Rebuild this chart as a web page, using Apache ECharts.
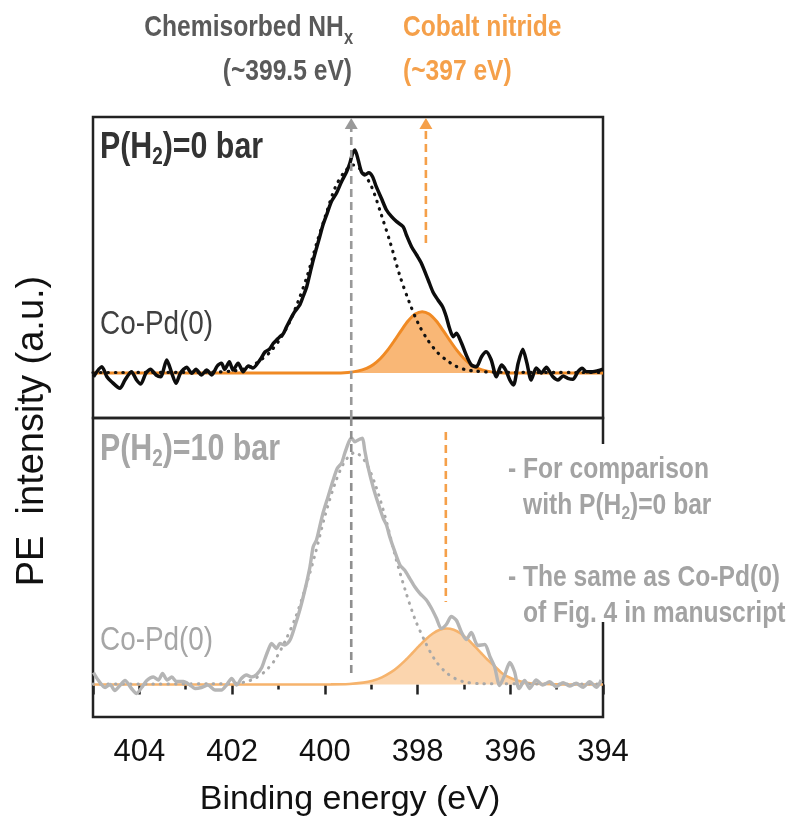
<!DOCTYPE html>
<html><head><meta charset="utf-8">
<script src="https://cdn.jsdelivr.net/npm/echarts@6/dist/echarts.min.js"></script>
<style>html,body{margin:0;padding:0;background:#fff}#c{width:792px;height:829px}</style>
</head><body><div id="c"></div>
<script>
// ---------- DATA ----------
// x-axis tick labels (binding energy, eV)
const xTicks = [404, 402, 400, 398, 396, 394];

// Top panel: P(H2)=0 bar, measured spectrum
const topE = [404.99,404.81,404.70,404.60,404.42,404.31,404.17,404.06,403.97,403.86,403.76,403.64,403.54,403.41,403.30,403.21,403.11,402.98,402.87,402.78,402.66,402.55,402.44,402.32,402.23,402.16,402.06,401.98,401.87,401.76,401.65,401.55,401.40,401.29,401.19,401.11,401.04,400.97,400.90,400.83,400.75,400.65,400.54,400.47,400.39,400.32,400.25,400.18,400.11,400.04,399.95,399.86,399.75,399.64,399.53,399.46,399.40,399.35,399.28,399.21,399.14,399.05,398.97,398.89,398.78,398.67,398.56,398.45,398.31,398.24,398.13,398.02,397.92,397.77,397.67,397.56,397.46,397.38,397.31,397.23,397.16,397.05,396.95,396.84,396.73,396.62,396.52,396.41,396.30,396.19,396.10,396.01,395.93,395.83,395.73,395.64,395.55,395.44,395.33,395.22,395.15,395.08,394.97,394.86,394.76,394.65,394.54,394.45,394.36,394.22,394.11,394.00];
const topH = [-3.7,6.3,-3.7,-8.7,-15.3,-7,1.3,-7,-11,-0.3,3.7,-2,-3.7,13,-0.3,-10.3,0.3,5.7,-0.3,3.7,-2,3,-2,7,9.7,3.7,11.3,3,9.7,1.3,7,5,13,21,24,29.7,33,36.3,39,45.7,53,61.3,68,76.3,86.3,99.7,113,124.7,136.3,148,159.7,171.3,179.7,191.3,201.3,209.7,219.7,223,213,201.3,198,200.3,196.3,186.3,174.7,163,156.3,151.3,146.3,138,126.3,118,110,93,81.3,73,66.3,56.3,44.7,36.3,39.7,29.7,18,8,6.3,16.3,21.3,13,-3.7,8,3,-7,-12,9.7,23.7,9.7,-7,5,0,5.7,1.3,-3.7,-7,-3,-5.3,-6.3,1.3,4.7,1.3,1.3,2.3,3.7];

// Top panel: NHx fit component (dotted)
const topFitE = [405,402.5,401.98,401.78,401.58,401.38,401.18,400.98,400.78,400.58,400.38,400.18,399.98,399.78,399.58,399.38,399.18,398.98,398.78,398.58,398.38,398.18,397.98,397.78,397.58,397.38,397.18,396.98,396.78,396.3,394];
const topFitH = [0.5,0.8,2,3.5,7,13,21,33,49,71,97,129,158,185,201,208,201,185,158,129,97,71,49,33,21,13,7,3.5,2,0.8,0.5];

// Top panel: cobalt nitride component (orange)
const topNE = [405,399.8,399.5,399.3,399.1,398.95,398.8,398.65,398.5,398.35,398.2,398.05,397.9,397.75,397.6,397.45,397.3,397.15,397.0,396.85,396.7,396.5,396.3,396.0,394];
const topNH = [0,0,0.6,1.9,4.7,8.6,14.5,22.6,32.3,42.7,52.2,58.9,61.3,58.9,52.2,42.7,32.3,22.6,14.5,8.6,4.7,1.9,0.6,0,0];

// Bottom panel: P(H2)=10 bar, measured spectrum
const botE = [404.99,404.89,404.74,404.63,404.53,404.42,404.31,404.17,404.06,403.95,403.84,403.70,403.59,403.50,403.40,403.30,403.20,403.05,402.91,402.80,402.66,402.52,402.37,402.23,402.12,402.01,401.90,401.80,401.69,401.58,401.47,401.36,401.29,401.22,401.15,401.04,400.97,400.86,400.75,400.65,400.54,400.43,400.32,400.25,400.18,400.11,400.04,399.93,399.82,399.73,399.64,399.57,399.48,399.42,399.35,399.28,399.19,399.14,399.07,398.96,398.85,398.74,398.67,398.60,398.49,398.38,398.28,398.17,398.06,397.95,397.81,397.70,397.59,397.49,397.38,397.27,397.16,397.05,396.95,396.84,396.70,396.55,396.44,396.34,396.23,396.12,396.01,395.91,395.81,395.69,395.58,395.44,395.30,395.15,395.01,394.86,394.72,394.58,394.43,394.29,394.14,394.04];
const botH = [12,4.5,-3,0,-6,-1,4,-4,-9,-3,4,7.5,4.5,11,4.5,7.5,3,3,-0.5,-4,-3,-0.5,-5.5,-5.5,-0.5,6,-0.5,6,9.5,7.5,10,17,26,34.5,41,36,41,39.5,44.5,57.8,74.5,94.5,117.8,137.8,144.5,157.8,171.2,187.8,204.5,216.2,221.2,231.2,242.8,246.2,242.8,244.5,246.2,234.5,217.8,197.8,181.2,166.2,159.5,147.8,132.8,119.5,114.5,106.2,97.8,91.2,84.5,76.2,66,56,60,68,64,52,45,52,39,40,28,18,-1,9.5,22,13,-4,4,-4,4.5,-0.5,2.8,-2.2,1.8,-1.5,1.2,-2.8,2.8,-2.8,4.5];

// Bottom panel: NHx fit component (dotted)
const botFitE = [405,402.04,401.72,401.51,401.29,401.07,400.86,400.64,400.43,400.21,400.00,399.78,399.57,399.35,399.13,398.92,398.70,398.49,398.27,398.06,397.84,397.63,397.41,397.19,396.98,396.66,394];
const botFitH = [0.5,0.8,2.5,6,13,25,43,66,95,130,168,201,223,232,223,201,168,130,95,66,43,25,13,6,2.5,0.8,0.5];

// Bottom panel: cobalt nitride component (orange)
const botNE = [405,399.87,399.47,399.17,398.97,398.77,398.57,398.42,398.27,398.12,397.97,397.82,397.67,397.52,397.37,397.22,397.07,396.92,396.77,396.62,396.47,396.32,396.17,395.97,395.77,395.57,395.27,394.87,394];
const botNH = [0,0.1,0.5,1.9,3.8,7.1,12.3,17.6,23.9,31,38.4,45.3,51,54.7,56,54.7,51,45.3,38.4,31,23.9,17.6,11,6,3,1.3,0.5,0.1,0];

// Reference markers (eV) and their vertical extents (intensity units)
const nhxMark = 399.43;
const topNitrideMark = 397.82;
const botNitrideMark = 397.39;
const nhxTopSpan = [-45, 249.5];
const nhxBotSpan = [266.5, 11.5];
const topNitrideSpan = [130, 249.5];
const botNitrideSpan = [252.5, 82.5];

// ---------- CHART ----------
const zip = (a, b) => a.map((v, i) => [v, b[i]]);
const SANS = '"Liberation Sans", Arial, sans-serif';
const NS = 0.82; // horizontal squeeze emulating a condensed face

const mctx = document.createElement('canvas').getContext('2d');
function tw(t, font) { mctx.font = font; return mctx.measureText(t).width; }
function run(x, y, parts, align) {
  const total = parts.reduce((s, p) => s + tw(p.t, p.font) * NS, 0);
  let cx = align === 'right' ? x - total : x;
  return parts.map(p => {
    const el = { type: 'text', x: cx, y: y + (p.dy || 0), scaleX: NS, z: 100,
      style: { text: p.t, font: p.font, fill: p.color, align: 'left', verticalAlign: 'middle' } };
    cx += tw(p.t, p.font) * NS;
    return el;
  });
}

const gray = '#5a5a5a', orangeTxt = '#F5A04A', light = '#a6a6a6', note = '#a3a3a3';
const B30 = 'bold 30px ' + SANS, B20 = 'bold 20px ' + SANS;
const B36 = 'bold 37px ' + SANS, B22 = 'bold 23px ' + SANS;
const R33 = '34px ' + SANS;
const N29 = 'bold 30px ' + SANS, N18 = 'bold 19px ' + SANS;

let graphics = [];
graphics.push({ type: 'rect', z: 90, shape: { x: 596, y: 444, width: 16, height: 178 }, style: { fill: '#fff' } });
graphics = graphics.concat(
  run(353, 28, [{ t: 'Chemisorbed NH', font: B30, color: gray }, { t: 'x', font: B20, color: gray, dy: 10 }], 'right'),
  run(352, 72, [{ t: '(~399.5 eV)', font: B30, color: gray }], 'right'),
  run(403, 28, [{ t: 'Cobalt nitride', font: B30, color: orangeTxt }], 'left'),
  run(403, 72, [{ t: '(~397 eV)', font: B30, color: orangeTxt }], 'left'),
  run(100, 148, [{ t: 'P(H', font: B36, color: '#333' }, { t: '2', font: B22, color: '#333', dy: 10 }, { t: ')=0 bar', font: B36, color: '#333' }], 'left'),
  run(100, 325, [{ t: 'Co-Pd(0)', font: R33, color: '#404040' }], 'left'),
  run(100, 450, [{ t: 'P(H', font: B36, color: light }, { t: '2', font: B22, color: light, dy: 10 }, { t: ')=10 bar', font: B36, color: light }], 'left'),
  run(100, 641, [{ t: 'Co-Pd(0)', font: R33, color: light }], 'left'),
  run(508, 470, [{ t: '- For comparison', font: N29, color: note }], 'left'),
  run(523, 506, [{ t: 'with P(H', font: N29, color: note }, { t: '2', font: N18, color: note, dy: 8 }, { t: ')=0 bar', font: N29, color: note }], 'left'),
  run(508, 578, [{ t: '- The same as Co-Pd(0)', font: N29, color: note }], 'left'),
  run(523, 614, [{ t: 'of Fig. 4 in manuscript', font: N29, color: note }], 'left')
);
graphics.push({ type: 'text', x: 350, y: 800, z: 100,
  style: { text: 'Binding energy (eV)', font: '34px ' + SANS, fill: '#111', align: 'center', verticalAlign: 'middle' } });
graphics.push({ type: 'text', x: 33, y: 431, rotation: Math.PI / 2, z: 100,
  style: { text: 'PE  intensity (a.u.)', font: '38px ' + SANS, fill: '#111', align: 'center', verticalAlign: 'middle' } });

function arrowLine(x, span, color, gi, head) {
  return {
    type: 'line', xAxisIndex: gi, yAxisIndex: gi, z: 6, silent: true, symbol: 'none',
    data: [{ value: [x, span[0]], symbol: 'none' },
           head ? { value: [x, span[1]], symbol: 'triangle', symbolSize: [13, 11] } : { value: [x, span[1]], symbol: 'none' }],
    itemStyle: { color: color },
    lineStyle: { color: color, width: 2.6, type: [8, 5] }
  };
}

const xBase = {
  type: 'value', min: 394, max: 405, inverse: true, interval: 2,
  splitLine: { show: false }, axisLine: { show: false }
};

const option = {
  animation: false,
  backgroundColor: '#fff',
  grid: [
    { left: 93, top: 117, width: 510, height: 301, show: true, borderColor: '#222', borderWidth: 2.5, backgroundColor: 'transparent' },
    { left: 93, top: 418, width: 510, height: 299, show: true, borderColor: '#222', borderWidth: 2.5, backgroundColor: 'transparent' }
  ],
  xAxis: [
    Object.assign({}, xBase, { gridIndex: 0, axisTick: { show: false }, axisLabel: { show: false } }),
    Object.assign({}, xBase, { gridIndex: 1,
      axisTick: { show: true, inside: false, length: 10, lineStyle: { color: '#222', width: 2.5 } },
      minorTick: { show: true, splitNumber: 2, length: 5, lineStyle: { color: '#222', width: 2.5 } },
      axisLabel: { show: true, fontSize: 31, color: '#111', fontFamily: SANS, margin: 20,
        formatter: v => (xTicks.indexOf(v) >= 0 ? String(v) : '') } })
  ],
  yAxis: [
    { type: 'value', gridIndex: 0, min: -45, max: 256, show: false, splitLine: { show: false } },
    { type: 'value', gridIndex: 1, min: -32.5, max: 266.5, show: false, splitLine: { show: false } }
  ],
  series: [
    { type: 'line', xAxisIndex: 0, yAxisIndex: 0, data: zip(topNE, topNH), smooth: 0.3, showSymbol: false, z: 2,
      lineStyle: { color: '#F08A24', width: 3 }, areaStyle: { color: '#F9B776', opacity: 1 } },
    { type: 'line', xAxisIndex: 0, yAxisIndex: 0, data: zip(topFitE, topFitH), smooth: 0.3, showSymbol: false, z: 3,
      lineStyle: { color: '#111', width: 3.2, type: [0.5, 7], cap: 'round' } },
    { type: 'line', xAxisIndex: 0, yAxisIndex: 0, data: zip(topE, topH), smooth: 0.25, showSymbol: false, z: 4,
      lineStyle: { color: '#0d0d0d', width: 3.5 } },
    { type: 'line', xAxisIndex: 1, yAxisIndex: 1, data: zip(botNE, botNH), smooth: 0.3, showSymbol: false, z: 2,
      lineStyle: { color: '#F6B36C', width: 2.6 }, areaStyle: { color: '#FBD5AE', opacity: 1 } },
    { type: 'line', xAxisIndex: 1, yAxisIndex: 1, data: zip(botFitE, botFitH), smooth: 0.3, showSymbol: false, z: 3,
      lineStyle: { color: '#a8a8a8', width: 3, type: [0.5, 7], cap: 'round' } },
    { type: 'line', xAxisIndex: 1, yAxisIndex: 1, data: zip(botE, botH), smooth: 0.25, showSymbol: false, z: 4,
      lineStyle: { color: '#b5b5b5', width: 3.4 } },
    arrowLine(nhxMark, nhxTopSpan, '#999999', 0, true),
    arrowLine(topNitrideMark, topNitrideSpan, '#F5A04A', 0, true),
    arrowLine(nhxMark, nhxBotSpan, '#8f8f8f', 1, false),
    arrowLine(botNitrideMark, botNitrideSpan, '#F5A04A', 1, false)
  ],
  graphic: graphics
};

const chart = echarts.init(document.getElementById('c'), null, { renderer: 'canvas' });
chart.setOption(option);
</script>
</body></html>
